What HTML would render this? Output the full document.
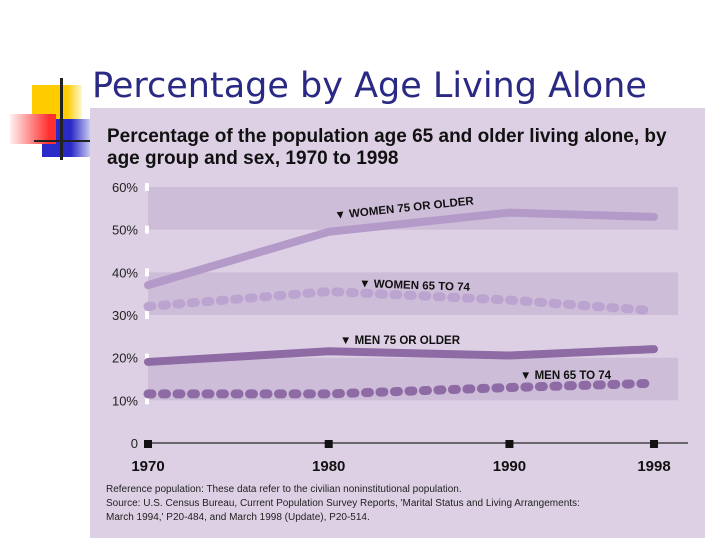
<!DOCTYPE html>
<html><head><meta charset="utf-8"><style>
html,body{margin:0;padding:0;background:#fff;}
body{width:720px;height:540px;position:relative;overflow:hidden;font-family:"Liberation Sans",sans-serif;}
.abs{position:absolute;}
</style></head><body>
<div class="abs" style="left:32px;top:85px;width:50px;height:36px;background:linear-gradient(90deg,#ffcc00 70%,#fff8d0);"></div>
<div class="abs" style="left:42px;top:119px;width:48px;height:38px;background:linear-gradient(90deg,#2a2ac8 60%,#c8c8f0);"></div>
<div class="abs" style="left:10px;top:114px;width:46px;height:30px;background:linear-gradient(90deg,#fff0f0,#ff3030 85%);"></div>
<div class="abs" style="left:60px;top:78px;width:3px;height:82px;background:#222;"></div>
<div class="abs" style="left:34px;top:140px;width:56px;height:2px;background:#222;"></div>
<div class="abs" style="left:92px;top:66px;font-size:35px;color:#2a2a84;font-family:'DejaVu Sans','Liberation Sans',sans-serif;white-space:nowrap;">Percentage by Age Living Alone</div>
<svg class="abs" style="left:0;top:0" width="720" height="540">
<rect x="90" y="108" width="615" height="430" fill="#ddd0e4"/>
<text x="107" y="142" font-size="19" font-weight="bold" fill="#111" font-family="Liberation Sans">Percentage of the population age 65 and older living alone, by</text>
<text x="107" y="164" font-size="19" font-weight="bold" fill="#111" font-family="Liberation Sans">age group and sex, 1970 to 1998</text>
<g id="g"></g>
<text x="106" y="492" font-size="10" fill="#222">Reference population: These data refer to the civilian noninstitutional population.</text>
<text x="106" y="506" font-size="10" fill="#222">Source: U.S. Census Bureau, Current Population Survey Reports, 'Marital Status and Living Arrangements:</text>
<text x="106" y="520" font-size="10" fill="#222">March 1994,' P20-484, and March 1998 (Update), P20-514.</text>
</svg>
<script>
const years=[1970,1980,1990,1998];
const women75=[37,49.5,54,53];
const women6574=[32,35.5,33.5,31];
const men75=[19,21.5,20.5,22];
const men6574=[11.5,11.5,13,14];
const yTicks=[0,10,20,30,40,50,60];
const yTickLabels=["0","10%","20%","30%","40%","50%","60%"];
const bands=[[50,60],[30,40],[10,20]];
const NS="http://www.w3.org/2000/svg";
const g=document.getElementById('g');
const X=y=>148+(y-1970)*(654-148)/28;
const Y=v=>443-v*(443-187)/60;
function el(t,a){const e=document.createElementNS(NS,t);for(const k in a)e.setAttribute(k,a[k]);g.appendChild(e);return e;}
bands.forEach(b=>{const r=el('rect',{x:148,y:Y(b[1]),width:530,height:Y(b[0])-Y(b[1]),fill:'#cdbdd8'});

});
yTicks.forEach((t,i)=>{const tx=el('text',{x:138,y:Y(t)+5,'font-size':13,'text-anchor':'end',fill:'#222'});tx.textContent=yTickLabels[i];


if(t>0){const m=el('rect',{x:145,y:Y(t)-4,width:4,height:8,fill:'#fff'});

}});
const ax=el('line',{x1:148,x2:688,y1:Y(0),y2:Y(0),stroke:'#444','stroke-width':1.5});


years.forEach(yr=>{const m=el('rect',{x:X(yr)-4,y:Y(0)-3,width:8,height:8,fill:'#111'});


const t=el('text',{x:X(yr),y:Y(0)+28,'font-size':15,'font-weight':'bold','text-anchor':'middle',fill:'#111'});t.textContent=yr;

});
function line(vals,col,dash,name){const p=el('polyline',{points:vals.map((v,i)=>X(years[i])+','+Y(v)).join(' '),fill:'none',stroke:col,'stroke-width':dash?9:8,'stroke-linecap':'round','stroke-linejoin':'round'});
if(dash)p.setAttribute('stroke-dasharray','4 10.5');

}
line(women75,'#b39ac8',false,'line-women-75-older');
line(women6574,'#bba4cf',true,'line-women-65-74');
line(men75,'#8e6ba4',false,'line-men-75-older');
line(men6574,'#8e6ba4',true,'line-men-65-74');
function lab(x,y,txt,rot,name){const t=el('text',{x:x,y:y,'font-size':11.5,'font-weight':'bold',fill:'#111',transform:`rotate(${rot} ${x} ${y})`});t.textContent='\u25BC '+txt;

}
lab(335,219,'WOMEN 75 OR OLDER',-6,'label-women-75');
lab(359,287,'WOMEN 65 TO 74',2,'label-women-65-74');
lab(340,344,'MEN 75 OR OLDER',0,'label-men-75');
lab(520,379,'MEN 65 TO 74',0,'label-men-65-74');
</script>
</body></html>
